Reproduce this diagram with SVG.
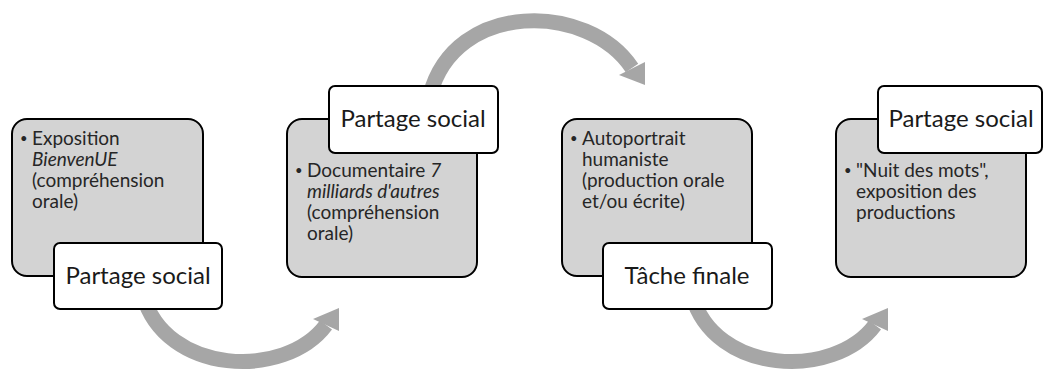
<svg xmlns="http://www.w3.org/2000/svg" width="1043" height="371" viewBox="0 0 1043 371">
<defs>
<style>
.arc{fill:none;stroke:#a6a6a6;stroke-width:15}
.head{fill:#a6a6a6}
.box{fill:#d3d3d3;stroke:#000;stroke-width:2}
.lab{fill:#fff;stroke:#000;stroke-width:2}
.bt{font-family:Lato,"Open Sans",sans-serif;font-size:19px;fill:#262626}
.bu{font-family:Lato,"Open Sans",sans-serif;font-size:13px;fill:#262626}
.lt{font-family:Lato,"Open Sans",sans-serif;font-size:24px;fill:#1a1a1a;text-anchor:middle}
.it{font-style:italic}
</style>
</defs>
<rect width="1043" height="371" fill="#fff"/>
<g id="connectors">
<path class="arc" d="M143 295 C165 375 285 380 326 325"/>
<polygon class="head" points="313,319 339,308 339,331"/>
<path class="arc" d="M430 95 C455 0 588 2 632 68"/>
<polygon class="head" points="619,75 645,62 645,85"/>
<path class="arc" d="M692 295 C714 375 834 380 875 325"/>
<polygon class="head" points="862,319 888,308 888,331"/>
</g>
<g id="node1">
<rect class="box" x="12" y="119" width="191" height="157" rx="15"/>
<text class="bu" x="20" y="143">•</text>
<text class="bt" x="32" y="145">Exposition</text>
<text class="bt it" x="32" y="166">BienvenUE</text>
<text class="bt" x="32" y="187">(compréhension</text>
<text class="bt" x="32" y="208">orale)</text>
</g>
<g id="label1">
<rect class="lab" x="54" y="243" width="168" height="66" rx="6"/>
<text class="lt" x="138" y="284">Partage social</text>
</g>
<g id="node2">
<rect class="box" x="287" y="119" width="190" height="158" rx="15"/>
<text class="bu" x="295" y="175">•</text>
<text class="bt" x="307" y="177">Documentaire <tspan class="it">7</tspan></text>
<text class="bt it" x="307" y="198">milliards d'autres</text>
<text class="bt" x="307" y="219">(compréhension</text>
<text class="bt" x="307" y="240">orale)</text>
</g>
<g id="label2">
<rect class="lab" x="329" y="86" width="169" height="67" rx="6"/>
<text class="lt" x="413" y="127">Partage social</text>
</g>
<g id="node3">
<rect class="box" x="562" y="119" width="190" height="157" rx="15"/>
<text class="bu" x="570" y="143">•</text>
<text class="bt" x="582" y="145">Autoportrait</text>
<text class="bt" x="582" y="166">humaniste</text>
<text class="bt" x="582" y="187">(production orale</text>
<text class="bt" x="582" y="208">et/ou écrite)</text>
</g>
<g id="label3">
<rect class="lab" x="603" y="243" width="169" height="66" rx="6"/>
<text class="lt" x="687" y="284">Tâche finale</text>
</g>
<g id="node4">
<rect class="box" x="836" y="119" width="190" height="158" rx="15"/>
<text class="bu" x="844" y="175">•</text>
<text class="bt" x="856" y="177">"Nuit des mots",</text>
<text class="bt" x="856" y="198">exposition des</text>
<text class="bt" x="856" y="219">productions</text>
</g>
<g id="label4">
<rect class="lab" x="878" y="86" width="164" height="67" rx="6"/>
<text class="lt" x="961" y="127">Partage social</text>
</g>
</svg>
